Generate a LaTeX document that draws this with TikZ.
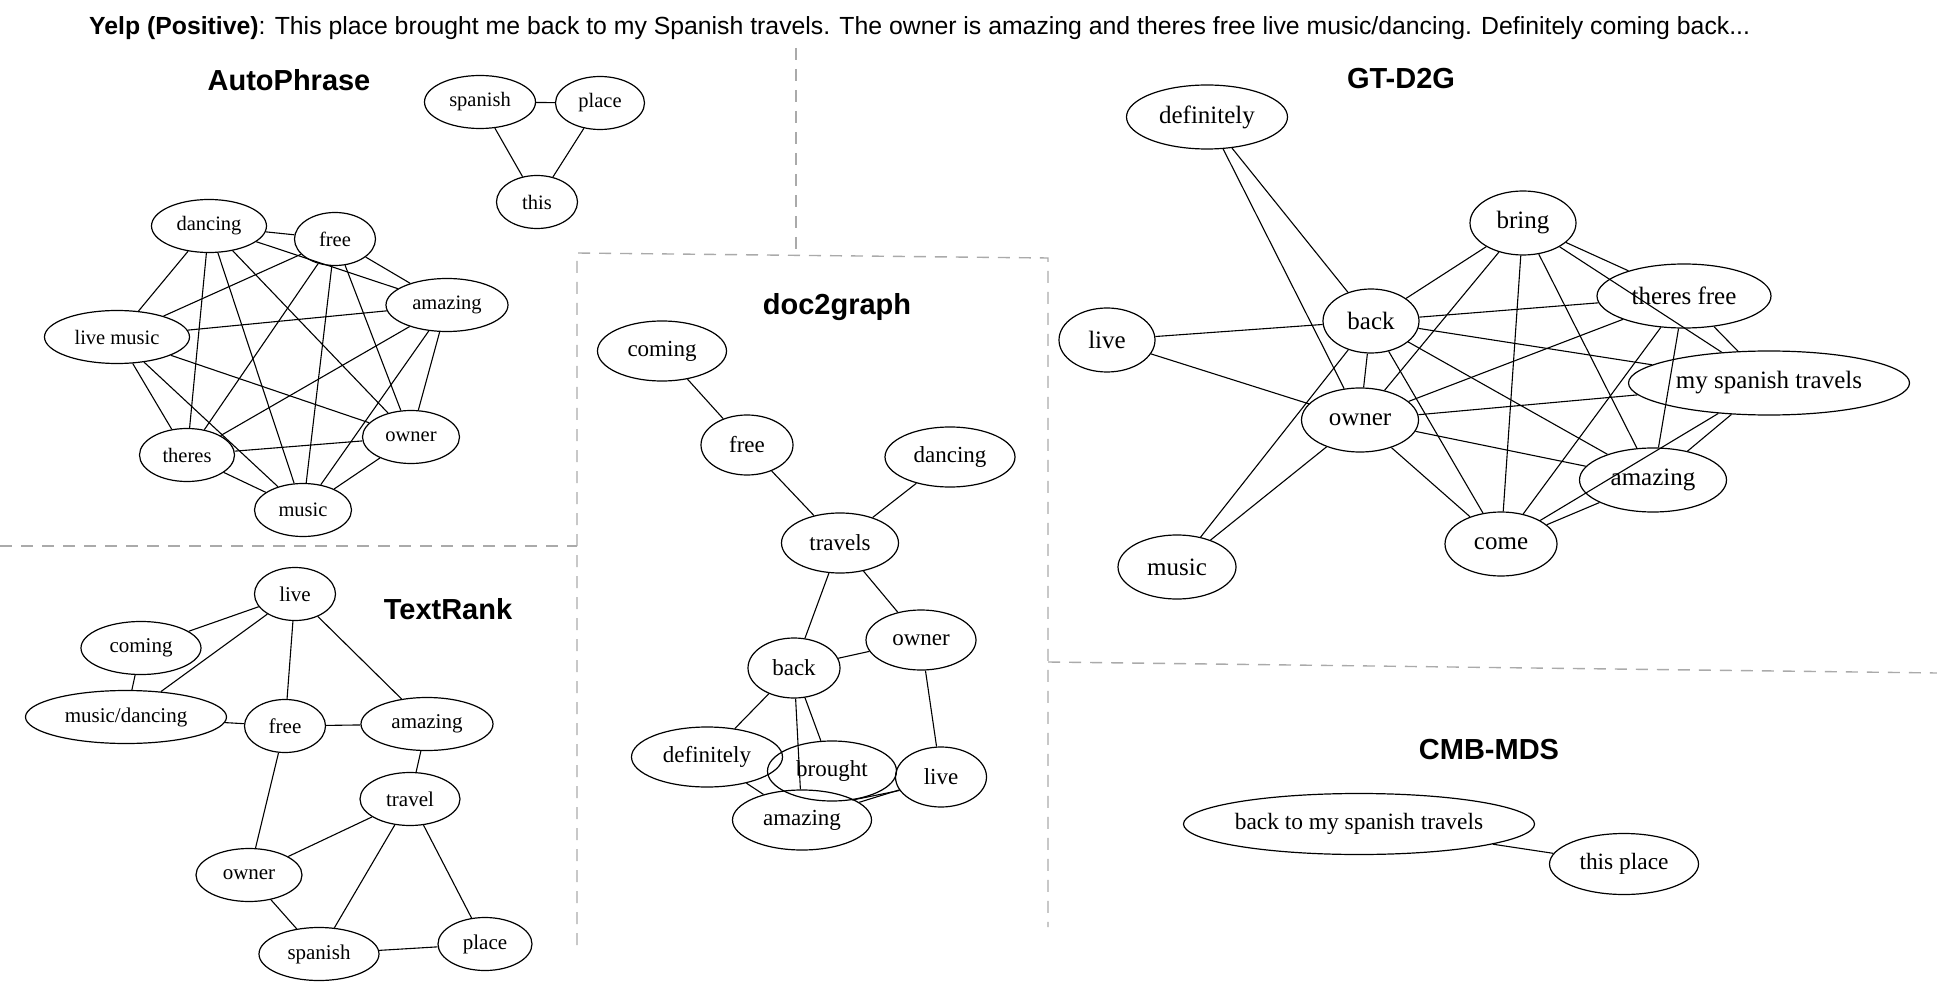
\documentclass[tikz,border=0pt]{standalone}
\usepackage{fontspec}
\setmainfont{Liberation Serif}
\setsansfont{Liberation Sans}
\usetikzlibrary{shapes.geometric}
\definecolor{divgray}{RGB}{170,170,170}

\begin{document}
\begin{tikzpicture}[x=0.5pt,y=-0.5pt,
  gnode/.style={ellipse, draw, line width=0.6pt, inner sep=0pt, minimum width=#1*0.5pt},
  ap/.style={gnode=#1, minimum height=26.5pt, font=\fontsize{10.25}{12}\selectfont},
  tr/.style={gnode=#1, minimum height=26.5pt, font=\fontsize{10.5}{12}\selectfont},
  dg/.style={gnode=#1, minimum height=30pt, font=\fontsize{11.5}{13}\selectfont},
  gt/.style={gnode=#1, minimum height=32pt, font=\fontsize{12.5}{14}\selectfont},
  cm/.style={gnode=#1, minimum height=30.5pt, font=\fontsize{11.7}{13}\selectfont},
  paneltitle/.style={font=\sffamily\bfseries\fontsize{14.5}{16}\selectfont},
  divider/.style={draw=divgray, line width=0.7pt, dash pattern=on 6pt off 4.5pt},
  every path/.style={line width=0.55pt}]
\useasboundingbox (0,0) rectangle (1937,989);

\node[anchor=base west, font=\sffamily\fontsize{12.4}{15}\selectfont] (header) at (82,35) {\textbf{Yelp (Positive)}: This place brought me back to my Spanish travels. The owner is amazing and theres free live music/dancing. Definitely coming back...};

\draw[divider] (796,48) -- (796,254);
\draw[divider] (577,945) -- (577,253) -- (1048,258) -- (1048,927);
\draw[divider] (0,546) -- (577,546);
\draw[divider] (1048,662) -- (1937,673);

\node[paneltitle] (aptitle) at (289,80) {AutoPhrase};
\node[ap=111] (apspanish) at (480,102) {spanish};
\node[ap=89] (applace) at (600,103) {place};
\node[ap=81] (apthis) at (537,202) {this};
\node[ap=115] (apdancing) at (209,226) {dancing};
\node[ap=81] (apfree) at (335,239) {free};
\node[ap=122] (apamazing) at (447,305) {amazing};
\node[ap=145] (aplive) at (117,337) {live music};
\node[ap=95] (aptheres) at (187,455) {theres};
\node[ap=97] (apowner) at (411,437) {owner};
\node[ap=97] (apmusic) at (303,510) {music};
\draw (apspanish) -- (applace) (apspanish) -- (apthis) (applace) -- (apthis);
\draw (apdancing) -- (apfree) (apdancing) -- (apamazing) (apdancing) -- (aplive)
      (apdancing) -- (aptheres) (apdancing) -- (apowner) (apdancing) -- (apmusic);
\draw (apfree) -- (apamazing) (apfree) -- (aplive) (apfree) -- (aptheres)
      (apfree) -- (apowner) (apfree) -- (apmusic);
\draw (apamazing) -- (aplive) (apamazing) -- (aptheres) (apamazing) -- (apowner) (apamazing) -- (apmusic);
\draw (aplive) -- (aptheres) (aplive) -- (apowner) (aplive) -- (apmusic);
\draw (aptheres) -- (apowner) (aptheres) -- (apmusic) (apowner) -- (apmusic);

\node[paneltitle] (trtitle) at (448,609) {TextRank};
\node[tr=81] (trlive) at (295,594) {live};
\node[tr=120] (trcoming) at (141,648) {coming};
\node[tr=201] (trmusic) at (126,717) {music/dancing};
\node[tr=81] (trfree) at (285,726) {free};
\node[tr=132] (tramazing) at (427,724) {amazing};
\node[tr=100] (trtravel) at (410,799) {travel};
\node[tr=106] (trowner) at (249,875) {owner};
\node[tr=120] (trspanish) at (319,954) {spanish};
\node[tr=94] (trplace) at (485,944) {place};
\draw (trlive) -- (trcoming) (trlive) -- (trmusic) (trlive) -- (trfree) (trlive) -- (tramazing);
\draw (trcoming) -- (trmusic) (trmusic) -- (trfree) (trfree) -- (tramazing) (trfree) -- (trowner);
\draw (tramazing) -- (trtravel) (trtravel) -- (trowner) (trtravel) -- (trspanish) (trtravel) -- (trplace);
\draw (trowner) -- (trspanish) (trspanish) -- (trplace);

\node[paneltitle] (dgtitle) at (837,307) {doc2graph};
\node[dg=129] (dgcoming) at (662,351) {coming};
\node[dg=92] (dgfree) at (747,445) {free};
\node[dg=130] (dgdancing) at (950,457) {dancing};
\node[dg=117] (dgtravels) at (840,543) {travels};
\node[dg=110] (dgowner) at (921,640) {owner};
\node[dg=92] (dgback) at (794,668) {back};
\node[dg=151] (dgdefinitely) at (707,757) {definitely};
\node[dg=129] (dgbrought) at (832,771) {brought};
\node[dg=91] (dglive) at (941,777) {live};
\node[dg=139] (dgamazing) at (802,820) {amazing};
\draw (dgcoming) -- (dgfree) (dgfree) -- (dgtravels) (dgdancing) -- (dgtravels);
\draw (dgtravels) -- (dgback) (dgtravels) -- (dgowner) (dgback) -- (dgowner);
\draw (dgback) -- (dgdefinitely) (dgback) -- (dgamazing) (dgback) -- (dgbrought);
\draw (dgowner) -- (dglive) (dgdefinitely) -- (dgamazing) (dglive) -- (dgamazing);
\draw (dglive.198) -- (dgbrought.305);

\node[paneltitle] (gttitle) at (1401,79) {GT-D2G};
\node[gt=161] (gtdefinitely) at (1207,117) {definitely};
\node[gt=106] (gtbring) at (1523,223) {bring};
\node[gt=174] (gttheres) at (1684,296) {theres free};
\node[gt=96] (gtback) at (1371,321) {back};
\node[gt=96] (gtlive) at (1107,340) {live};
\node[gt=281] (gtspanish) at (1769,383) {my spanish travels};
\node[gt=117] (gtowner) at (1360,420) {owner};
\node[gt=147] (gtamazing) at (1653,480) {amazing};
\node[gt=112] (gtcome) at (1501,544) {come};
\node[gt=118] (gtmusic) at (1177,567) {music};
\draw (gtdefinitely) -- (gtback) (gtdefinitely) -- (gtowner) (gtlive) -- (gtback) (gtlive) -- (gtowner);
\draw (gtmusic) -- (gtback) (gtmusic) -- (gtowner);
\draw (gtbring) -- (gtback) (gtbring) -- (gtowner) (gtbring) -- (gttheres)
      (gtbring) -- (gtspanish) (gtbring) -- (gtamazing) (gtbring) -- (gtcome);
\draw (gtback) -- (gtowner) (gtback) -- (gttheres) (gtback) -- (gtspanish)
      (gtback) -- (gtamazing) (gtback) -- (gtcome);
\draw (gtowner) -- (gttheres) (gtowner) -- (gtspanish) (gtowner) -- (gtamazing) (gtowner) -- (gtcome);
\draw (gttheres) -- (gtspanish) (gttheres) -- (gtamazing) (gttheres) -- (gtcome);
\draw (gtspanish) -- (gtamazing) (gtspanish) -- (gtcome) (gtamazing) -- (gtcome);

\node[paneltitle] (cmtitle) at (1489,750) {CMB-MDS};
\node[cm=350] (cmback) at (1359,824) {back to my spanish travels};
\node[cm=149] (cmthis) at (1624,864) {this place};
\draw (cmback) -- (cmthis);
\end{tikzpicture}
\end{document}
